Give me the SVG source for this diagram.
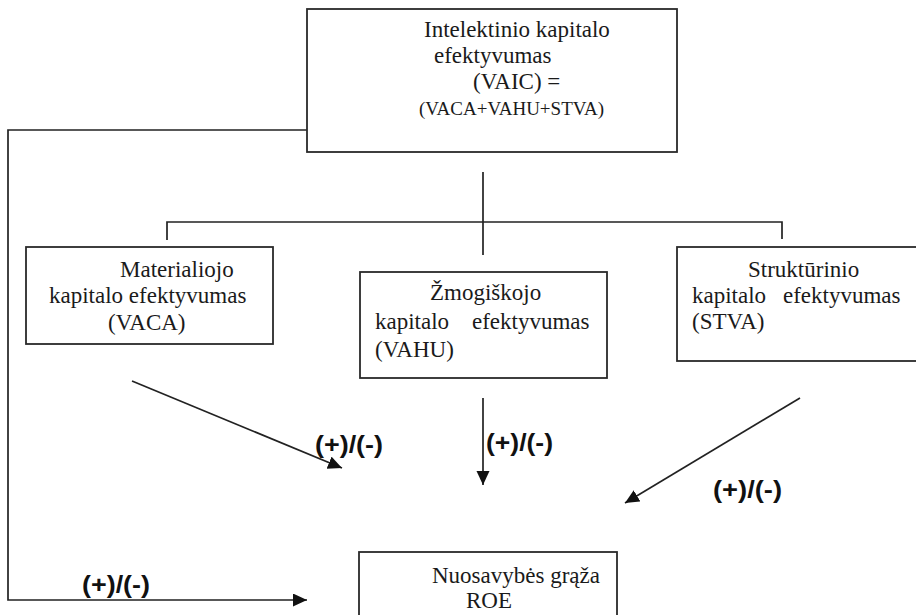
<svg xmlns="http://www.w3.org/2000/svg" width="916" height="615" viewBox="0 0 916 615">
<style>
.box{fill:#fff;stroke:#2a2a2a;stroke-width:1.8}
.t{font-family:"Liberation Serif","Times New Roman",serif;font-size:23px;fill:#1a1a1a}
.s{font-size:19px}
.c{fill:none;stroke:#222;stroke-width:1.7}
.lbl{font-family:"Liberation Sans",Arial,sans-serif;font-weight:bold;font-size:23px;fill:#111}
</style>
<defs>
<marker id="ah" markerUnits="userSpaceOnUse" markerWidth="16" markerHeight="14" refX="14" refY="6.5" orient="auto">
<path d="M0,0 L14,6.5 L0,13 z" fill="#111"/>
</marker>
</defs>
<rect width="916" height="615" fill="#fff"/>
<g id="connectors">
<path class="c" d="M483,172 V255"/>
<path class="c" d="M167,240 V222 H782 V239"/>
<path class="c" d="M307,130 H8 V600 H307" marker-end="url(#ah)"/>
<path class="c" d="M132,381 L342,468" marker-end="url(#ah)"/>
<path class="c" d="M483,398 V485" marker-end="url(#ah)"/>
<path class="c" d="M800,398 L625,503" marker-end="url(#ah)"/>
<text class="lbl" x="315" y="453" textLength="68" lengthAdjust="spacingAndGlyphs">(+)/(-)</text>
<text class="lbl" x="486" y="451" textLength="67" lengthAdjust="spacingAndGlyphs">(+)/(-)</text>
<text class="lbl" x="713" y="498" textLength="69" lengthAdjust="spacingAndGlyphs">(+)/(-)</text>
<text class="lbl" x="82" y="593" textLength="68" lengthAdjust="spacingAndGlyphs">(+)/(-)</text>
</g>
<g id="vaic">
<rect class="box" x="307" y="9" width="370" height="143"/>
<text class="t" x="424" y="37">Intelektinio kapitalo</text>
<text class="t" x="434" y="63">efektyvumas</text>
<text class="t" x="473" y="89">(VAIC) =</text>
<text class="t s" x="419" y="115">(VACA+VAHU+STVA)</text>
</g>
<g id="vaca">
<rect class="box" x="26" y="247" width="247" height="97"/>
<text class="t" x="120" y="277">Materialiojo</text>
<text class="t" x="49" y="303">kapitalo efektyvumas</text>
<text class="t" x="108" y="330">(VACA)</text>
</g>
<g id="vahu">
<rect class="box" x="360" y="272" width="247" height="106"/>
<text class="t" x="430" y="300">Žmogiškojo</text>
<text class="t" y="329"><tspan x="375">kapitalo </tspan><tspan x="472">efektyvumas</tspan></text>
<text class="t" x="375" y="357">(VAHU)</text>
</g>
<g id="stva">
<rect class="box" x="677" y="247" width="250" height="114"/>
<text class="t" x="748" y="277">Struktūrinio</text>
<text class="t" y="303"><tspan x="692">kapitalo </tspan><tspan x="783">efektyvumas</tspan></text>
<text class="t" x="692" y="329">(STVA)</text>
</g>
<g id="roe">
<rect class="box" x="359" y="552" width="258" height="80"/>
<text class="t" x="432" y="583">Nuosavybės grąža</text>
<text class="t" x="466" y="608">ROE</text>
</g>
</svg>
